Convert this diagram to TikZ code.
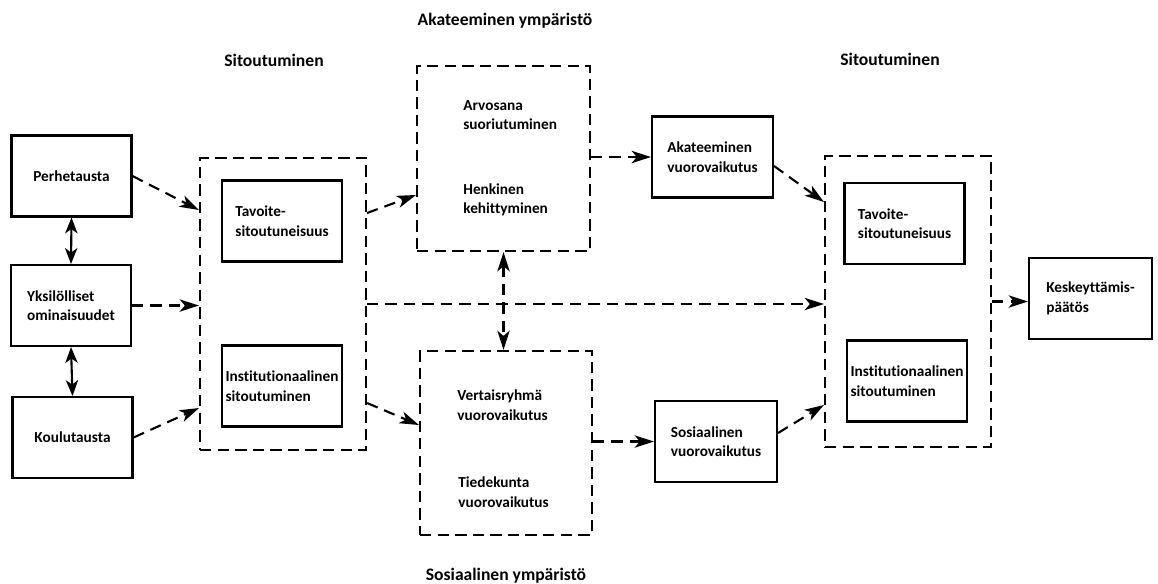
\documentclass[tikz,border=0pt]{standalone}
\usepackage{fontspec}
\setmainfont[Ligatures=NoCommon]{Carlito}
\usepackage{tikz}
\usetikzlibrary{positioning,arrows.meta,calc}

\begin{document}
\begin{tikzpicture}[x=0.02cm,y=-0.02cm,>={Stealth[length=11pt,width=7pt,inset=3pt]},
    box/.style={draw,line width=1.2pt,minimum width=2.4cm,minimum height=1.62cm,align=left,inner sep=0pt,
      font=\fontsize{8.7}{11.1}\selectfont\bfseries},
    areabox/.style={draw,line width=1.2pt,dash pattern=on 6.5pt off 3.5pt},
    txt/.style={align=left,inner sep=0pt,font=\fontsize{8.7}{11.1}\selectfont\bfseries},
    title/.style={inner sep=0pt,font=\fontsize{10}{12}\selectfont\bfseries},
    link/.style={->,line width=1.2pt,dash pattern=on 6.5pt off 4pt},
    dbl/.style={<->,line width=1.2pt,>={Stealth[length=9pt,width=7pt,inset=2.5pt]}}]

    \useasboundingbox (0,0) rectangle (1158,583);

    % titles
    \node[title] (akatT) at (505,21) {Akateeminen ympäristö};
    \node[title] (sitT1) at (274,60) {Sitoutuminen};
    \node[title] (sitT2) at (890,59) {Sitoutuminen};
    \node[title] (sosT) at (506,576) {Sosiaalinen ympäristö};

    % background
    \node[box] (perhe) at (71.5,176) {Perhetausta};
    \node[box] (yksi) at (71,305.5) {Yksilölliset\\ominaisuudet};
    \node[box] (koulu) at (72.5,437.5) {Koulutausta};

    % left commitment block
    \node[areabox,minimum width=3.32cm,minimum height=5.84cm] (sitL) at (283,304) {};
    \node[box] (tavL) at (282,221) {Tavoite-\\sitoutuneisuus};
    \node[box] (instL) at (282,386) {Institutionaalinen\\sitoutuminen};

    % academic and social environment
    \node[areabox,minimum width=3.46cm,minimum height=3.7cm] (akat) at (503.5,158.5) {};
    \node[txt,anchor=west] (arvo) at (463,115) {Arvosana\\suoriutuminen};
    \node[txt,anchor=west] (henk) at (463,200) {Henkinen\\kehittyminen};
    \node[areabox,minimum width=3.44cm,minimum height=3.68cm] (sos) at (506,443) {};
    \node[txt,anchor=west] (vert) at (457,405) {Vertaisryhmä\\vuorovaikutus};
    \node[txt,anchor=west] (tied) at (458,492) {Tiedekunta\\vuorovaikutus};

    \node[box,minimum width=2.42cm] (akatV) at (712.5,157) {Akateeminen\\vuorovaikutus};
    \node[box,minimum width=2.44cm] (sosV) at (716,441.5) {Sosiaalinen\\vuorovaikutus};

    % right commitment block
    \node[areabox,minimum width=3.32cm,minimum height=5.82cm] (sitR) at (908,301.5) {};
    \node[box] (tavR) at (904.5,223.5) {Tavoite-\\sitoutuneisuus};
    \node[box] (instR) at (907,381) {Institutionaalinen\\sitoutuminen};

    \node[box,minimum width=2.46cm] (kesk) at (1090.5,298.5) {Keskeyttämis-\\päätös};

    % arrows
    \draw[dbl] (perhe.south) -- (yksi.north);
    \draw[dbl] (yksi.south) -- (koulu.north);
    \draw[link] (perhe.east) -- (sitL.west |- 0,210);
    \draw[link] (yksi.east) -- (yksi.east -| sitL.west);
    \draw[link] (koulu.east) -- (sitL.west |- 0,408);
    \draw[link] (sitL.east |- 0,213) -- (akat.west |- 0,195);
    \draw[link] (sitL.east |- 0,403) -- (sos.west |- 0,425);
    \draw[link] (sitL.east) -- (sitL.east -| sitR.west);
    \draw[link,<->] (akat.south) -- (akat.south |- sos.north);
    \draw[link] (akat.east |- akatV.west) -- (akatV.west);
    \draw[link] (sos.east |- sosV.west) -- (sosV.west);
    \draw[link] (akatV.east |- 0,166) -- (sitR.west |- 0,202);
    \draw[link] (sosV.east |- 0,433) -- (sitR.west |- 0,405);
    \draw[link] (sitR.east) -- (sitR.east -| kesk.west);
\end{tikzpicture}
\end{document}
